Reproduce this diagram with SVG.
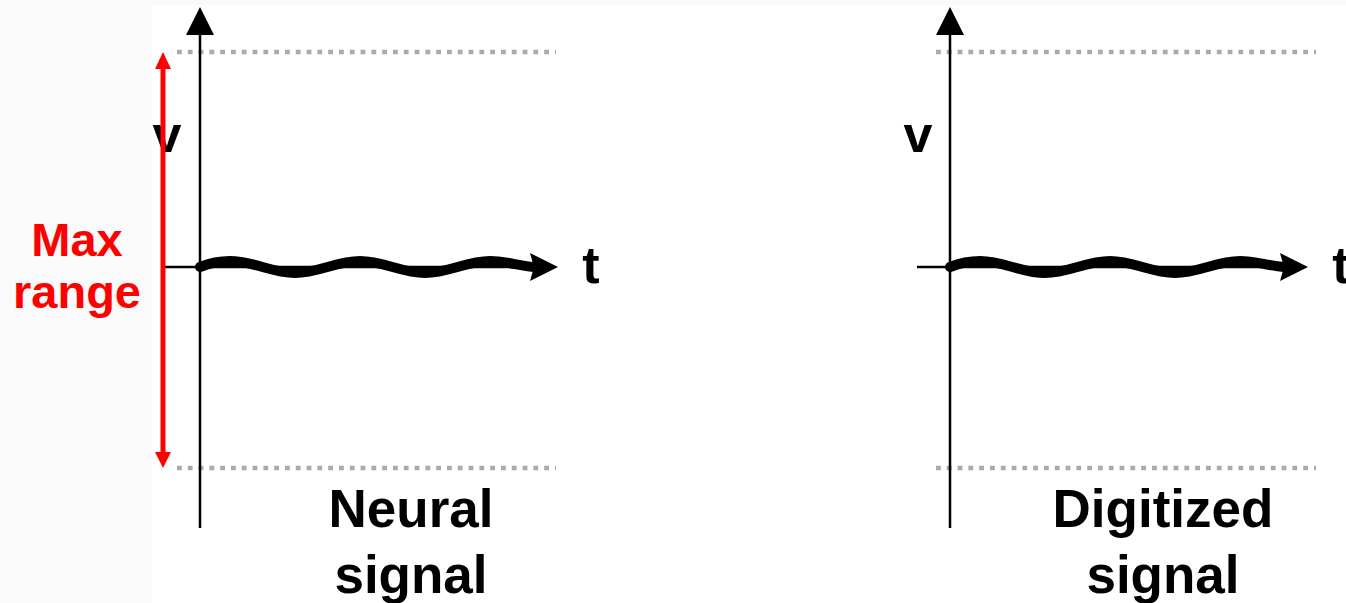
<svg xmlns="http://www.w3.org/2000/svg" width="1346" height="603" viewBox="0 0 1346 603">
  <style>
    .axis { stroke: #000; stroke-width: 2.5; fill: none; }
    .dots { stroke: #aaaaaa; stroke-width: 4.5; stroke-dasharray: 4.8 6; fill: none; }
    .wave { stroke: #000; stroke-width: 10; fill: none; stroke-linecap: round; }
    .head { fill: #000; }
    .lbl { font-family: "Liberation Sans", Arial, sans-serif; font-weight: bold; fill: #000; }
    .red { stroke: #ff0000; stroke-width: 5; fill: none; }
    .redhead { fill: #ff0000; }
    .redlbl { font-family: "Liberation Sans", Arial, sans-serif; font-weight: bold; fill: #ff0000; font-size: 47px; text-anchor: middle; }
  </style>
  <rect x="0" y="0" width="1346" height="603" fill="#fafafa"/>
  <rect x="152" y="5" width="1194" height="598" fill="#ffffff"/>

  <g id="neural-plot">
    <line class="dots" x1="177" y1="52" x2="556" y2="52"/>
    <line class="dots" x1="177" y1="468" x2="556" y2="468"/>
    <text class="lbl" x="167" y="152" font-size="52" text-anchor="middle">v</text>
    <line class="axis" x1="200" y1="528" x2="200" y2="30"/>
    <polygon class="head" points="200,7 214,35 186,35"/>
    <line class="axis" x1="165" y1="267" x2="530" y2="267"/>
    <path class="wave" d="M200,267 C210,263 218,261 230,261 C253.4,261 271.6,273 295,273 C318.4,273 336.6,261 360,261 C383.4,261 401.6,273 425,273 C448.4,273 466.6,261 490,261 C505,261 515,265 534,267"/>
    <polygon class="head" points="530,253 558,267 530,281 534,267"/>
    <text class="lbl" x="591" y="283" font-size="52" text-anchor="middle">t</text>
    <text class="lbl" x="411" y="527" font-size="53" text-anchor="middle">Neural</text>
    <text class="lbl" x="411" y="593" font-size="53" text-anchor="middle">signal</text>
  </g>

  <g id="digitized-plot">
    <line class="dots" x1="936" y1="52" x2="1316" y2="52"/>
    <line class="dots" x1="936" y1="468" x2="1316" y2="468"/>
    <text class="lbl" x="918" y="152" font-size="52" text-anchor="middle">v</text>
    <line class="axis" x1="950" y1="528" x2="950" y2="30"/>
    <polygon class="head" points="950,7 964,35 936,35"/>
    <line class="axis" x1="917" y1="267" x2="1282" y2="267"/>
    <path class="wave" d="M950,267 C960,263 968,261 980,261 C1003.4,261 1021.6,273 1045,273 C1068.4,273 1086.6,261 1110,261 C1133.4,261 1151.6,273 1175,273 C1198.4,273 1216.6,261 1240,261 C1255,261 1265,265 1284,267"/>
    <polygon class="head" points="1280,253 1308,267 1280,281 1284,267"/>
    <text class="lbl" x="1341" y="283" font-size="52" text-anchor="middle">t</text>
    <text class="lbl" x="1163" y="527" font-size="53" text-anchor="middle">Digitized</text>
    <text class="lbl" x="1163" y="593" font-size="53" text-anchor="middle">signal</text>
  </g>

  <g id="max-range">
    <line class="red" x1="163" y1="66" x2="163" y2="455"/>
    <polygon class="redhead" points="163,52 171,69 155,69"/>
    <polygon class="redhead" points="163,468 171,452 155,452"/>
    <text class="redlbl" x="77" y="256">Max</text>
    <text class="redlbl" x="77" y="308">range</text>
  </g>
</svg>
